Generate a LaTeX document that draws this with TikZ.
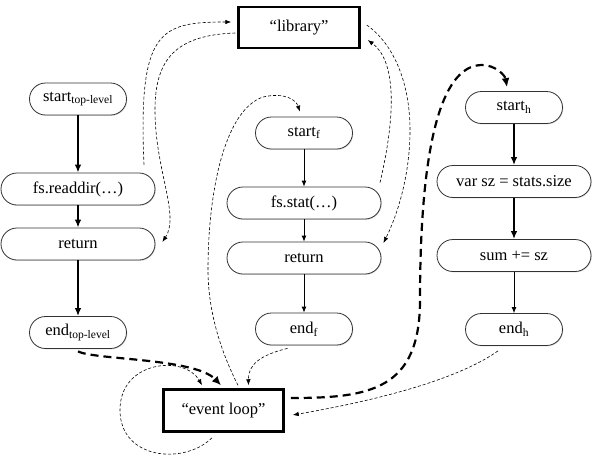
\documentclass[tikz,border=0pt]{standalone}
\usepackage{fontspec}
\setmainfont{Liberation Serif}
\usepackage{tikz}
\usetikzlibrary{arrows.meta, positioning, shapes.misc, shadows}
\tikzstyle{block_style} = [rounded rectangle, draw=black!80, line width=0.8pt, fill=white, minimum width=101pt, minimum height=32pt, inner sep=2pt, font=\fontsize{16.5}{19}\selectfont, drop shadow={shadow xshift=0.8pt, shadow yshift=-0.8pt, opacity=0.3}]
\tikzstyle{wide_style} = [block_style, minimum width=158pt]
\tikzstyle{box_style} = [rectangle, draw, line width=2.5pt, fill=white, font=\fontsize{16.5}{19}\selectfont]
\tikzstyle{flow_style} = [line width=0.8pt, -{Latex[length=6pt, width=5pt]}]
\tikzstyle{bold_flow_style} = [line width=2pt, -{Latex[length=8pt, width=6.5pt]}]
\tikzstyle{call_style} = [line width=0.6pt, dash pattern=on 3pt off 2pt, -{Latex[length=6pt, width=4.5pt]}]
\tikzstyle{async_style} = [line width=2.2pt, dash pattern=on 8pt off 5pt, -{Latex[length=9pt, width=8pt]}]

\begin{document}
\begin{tikzpicture}[x=1pt, y=-1pt, node distance=55pt]
	\useasboundingbox (0,0) rectangle (598,459);
	
	  % 左列
	  \node[block_style] (start_top) at (78,99) {start\textsubscript{top-level}};
	  \node[wide_style, below of=start_top, yshift=-35pt] (readdir) {fs.readdir(…)};
	  \node[wide_style, below of=readdir] (return_top) {return};
	  \node[block_style, below of=return_top, yshift=-33.5pt] (end_top) {end\textsubscript{top-level}};
	  \draw[bold_flow_style] (start_top.south) -- (readdir.north);
	  \draw[bold_flow_style] (readdir.south) -- (return_top.north);
	  \draw[bold_flow_style] (return_top.south) -- (end_top.north);
	  
	  % 中列
	  \node[block_style] (start_f) at (304,133) {start\textsubscript{f}};
	  \node[wide_style, below of=start_f, yshift=-15pt] (stat) {fs.stat(…)};
	  \node[wide_style, below of=stat] (return_f) {return};
	  \node[block_style, below of=return_f, yshift=-16pt] (end_f) {end\textsubscript{f}};
	  \draw[flow_style] (start_f.south) -- (stat.north);
	  \draw[flow_style] (stat.south) -- (return_f.north);
	  \draw[flow_style] (return_f.south) -- (end_f.north);
	  
	  % 右列
	  \node[block_style] (start_h) at (514,107.5) {start\textsubscript{h}};
	  \node[wide_style, below of=start_h, yshift=-19pt] (var_sz) {var sz = stats.size};
	  \node[wide_style, below of=var_sz, yshift=-19pt] (sum_sz) {sum += sz};
	  \node[block_style, below of=sum_sz, yshift=-19pt] (end_h) {end\textsubscript{h}};
	  \draw[bold_flow_style] (start_h.south) -- (var_sz.north);
	  \draw[bold_flow_style] (var_sz.south) -- (sum_sz.north);
	  \draw[flow_style] (sum_sz.south) -- (end_h.north);
	  
	  % 库 / 事件循环
	  \node[box_style, minimum width=121pt, minimum height=41pt] (library) at (299,27.5) {“library”};
	  \node[box_style, minimum width=120pt, minimum height=42pt] (event_loop) at (223.5,410.5) {“event loop”};
	  
	  % 调用
	  \draw[call_style] ([xshift=66pt, yshift=8pt]readdir.north) .. controls (138,30) and (160,22) .. ([xshift=-6pt, yshift=5.5pt]library.west);
	  \draw[call_style] ([xshift=-2pt, yshift=-5.5pt]library.west) .. controls (175,35) and (155,60) .. (155,110) .. controls (155,170) and (180,215) .. ([xshift=7pt, yshift=2pt]return_top.east);
	  \draw[call_style] ([xshift=76pt, yshift=4pt]stat.north) .. controls (397,110) and (395,60) .. ([xshift=7pt, yshift=-12.5pt]library.east);
	  \draw[call_style] ([xshift=6pt, yshift=2.5pt]library.east) .. controls (395,45) and (410,85) .. (410,130) .. controls (410,180) and (395,220) .. ([xshift=2pt, yshift=15pt]return_f.east);
	  
	  % 事件循环
	  \draw[call_style] ([xshift=14.5pt, yshift=3pt]event_loop.north) .. controls (220,350) and (208,310) .. (208,270) .. controls (208,190) and (225,110) .. (263,97) .. controls (285,92) and (296,100) .. ([xshift=-4pt, yshift=5pt]start_f.north);
	  \draw[async_style] ([xshift=6pt, yshift=12.5pt]event_loop.east) .. controls (370,398) and (420,390) .. (420,300) .. controls (420,150) and (440,65) .. (482,65) .. controls (495,65) and (505,75) .. ([xshift=-7pt, yshift=4pt]start_h.north);
	  \draw[call_style] ([xshift=-16pt, yshift=-5pt]end_h.south) .. controls (450,385) and (350,405) .. ([xshift=8pt, yshift=-4.5pt]event_loop.east);
	  \draw[async_style] ([yshift=-2.5pt]end_top.south) .. controls (95,360) and (195,358) .. ([xshift=-2.5pt, yshift=3pt]event_loop.north);
	  \draw[call_style] ([xshift=-16.5pt, yshift=-3pt]end_f.south) .. controls (260,355) and (248,365) .. ([xshift=25pt, yshift=3pt]event_loop.north);
	  \draw[call_style] ([xshift=-11.5pt, yshift=-5pt]event_loop.south) .. controls (185,465) and (120,460) .. (120,410) .. controls (120,360) and (185,355) .. ([xshift=-21.5pt, yshift=3pt]event_loop.north);
	  
	  \end{tikzpicture}
\end{document}
